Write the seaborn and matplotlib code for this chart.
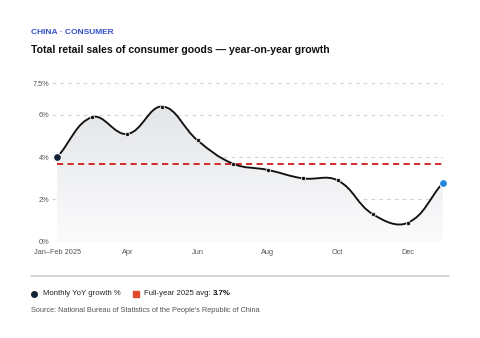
import numpy as np
import pandas as pd
import matplotlib
matplotlib.use("Agg")
import matplotlib.pyplot as plt
import seaborn as sns
from matplotlib.path import Path
from matplotlib.patches import PathPatch
from matplotlib.lines import Line2D

# ---------------- data ----------------
months = ["Jan–Feb 2025", "Mar", "Apr", "May", "Jun", "Jul", "Aug",
          "Sep", "Oct", "Nov", "Dec", "Jan–Feb 2026"]
yoy_growth = [4.0, 5.9, 5.1, 6.4, 4.8, 3.7, 3.4, 3.0, 2.9, 1.3, 0.9, 2.8]
full_year_avg = 3.7
tick_labels_x = ["Jan–Feb 2025", "", "Apr", "", "Jun", "", "Aug", "", "Oct", "", "Dec", ""]
y_ticks = [0, 2, 4, 6, 7.5]
y_tick_labels = ["0%", "2%", "4%", "6%", "7.5%"]

df = pd.DataFrame({"month": months, "idx": np.arange(len(months)), "yoy": yoy_growth})

sns.set_theme(style="white")
plt.rcParams["font.family"] = ["Liberation Sans", "DejaVu Sans"]

W, H = 480, 338
fig = plt.figure(figsize=(W / 100, H / 100), dpi=100)
fig.patch.set_facecolor("white")
ax_l, ax_r, ax_t, ax_b = 52, 443, 83.3, 241.7
ax = fig.add_axes([ax_l / W, 1 - ax_b / H, (ax_r - ax_l) / W, (ax_b - ax_t) / H])

x0, x1 = -0.15, len(months) - 1
ax.set_xlim(x0, x1)
ax.set_ylim(0, 7.5)

# pixel scale for spline tension (Chart.js-like)
sx = (ax_r - ax_l) / (x1 - x0)
sy = (ax_b - ax_t) / 7.5
xs = df["idx"].to_numpy(dtype=float)
ys = df["yoy"].to_numpy(dtype=float)
n = len(xs)
t = 0.4
cps = []
for i in range(n):
    px, py = (xs[i - 1], ys[i - 1]) if i > 0 else (xs[i], ys[i])
    nx, ny = (xs[i + 1], ys[i + 1]) if i < n - 1 else (xs[i], ys[i])
    d01 = np.hypot((xs[i] - px) * sx, (ys[i] - py) * sy)
    d12 = np.hypot((nx - xs[i]) * sx, (ny - ys[i]) * sy)
    tot = d01 + d12
    s01 = d01 / tot if tot else 0
    s12 = d12 / tot if tot else 0
    fa, fb = t * s01, t * s12
    cp_prev = (xs[i] - fa * (nx - px), ys[i] - fa * (ny - py))
    cp_next = (xs[i] + fb * (nx - px), ys[i] + fb * (ny - py))
    cps.append((cp_prev, cp_next))

verts = [(xs[0], ys[0])]
codes = [Path.MOVETO]
for i in range(n - 1):
    verts += [cps[i][1], cps[i + 1][0], (xs[i + 1], ys[i + 1])]
    codes += [Path.CURVE4] * 3
line_path = Path(verts, codes)

fill_verts = verts + [(xs[-1], 0), (xs[0], 0), (xs[0], ys[0])]
fill_codes = codes + [Path.LINETO, Path.LINETO, Path.CLOSEPOLY]
fill_patch = PathPatch(Path(fill_verts, fill_codes), facecolor="none", edgecolor="none")
ax.add_patch(fill_patch)

# gradient fill
grad = np.linspace(0, 1, 256).reshape(-1, 1)
top_c = np.array([0.89, 0.90, 0.91])
bot_c = np.array([0.985, 0.985, 0.99])
img = bot_c + (top_c - bot_c) * grad
img = np.repeat(img[:, None, :], 2, axis=1)
im = ax.imshow(img, origin="lower", extent=[xs[0], xs[-1], 0, max(ys)], aspect="auto",
               zorder=1, interpolation="bilinear")
im.set_clip_path(fill_patch)

# grid
for yt in y_ticks:
    ax.axhline(yt, color="#d4d4d4", lw=0.8, ls=(0, (3.5, 3.5)), zorder=0.5)

# average line
ax.plot([xs[0], xs[-1]], [full_year_avg, full_year_avg], color="#d42a2a", lw=1.4,
        ls=(0, (3.2, 2.2)), zorder=2)

# curve
ax.add_patch(PathPatch(line_path, facecolor="none", edgecolor="#111111", lw=1.35, zorder=3,
                       capstyle="round", joinstyle="round"))

# points
sns.scatterplot(data=df.iloc[1:-1], x="idx", y="yoy", ax=ax, color="#111111", s=9,
                edgecolor="white", linewidth=0.5, zorder=4, legend=False)
sns.scatterplot(data=df.iloc[[0]], x="idx", y="yoy", ax=ax, color="#0f2233", s=32,
                edgecolor="white", linewidth=0.8, zorder=5, legend=False, clip_on=False)
sns.scatterplot(data=df.iloc[[-1]], x="idx", y="yoy", ax=ax, color="#1f86e0", s=32,
                edgecolor="white", linewidth=0.8, zorder=5, legend=False, clip_on=False)

ax.set_xticks(xs)
ax.set_xticklabels(tick_labels_x)
ax.set_yticks(y_ticks)
ax.set_yticklabels(y_tick_labels)
ax.tick_params(axis="both", length=0, labelsize=5.3, labelcolor="#555555")
ax.tick_params(axis="y", pad=2)
ax.tick_params(axis="x", pad=5.5)
ax.set_xlabel("")
ax.set_ylabel("")
for s in ax.spines.values():
    s.set_visible(False)
ax.set_facecolor("none")

# titles
fig.text(31 / W, 1 - 32 / H, "CHINA · CONSUMER",
         color="#3450c8", fontsize=6.0, fontweight="bold", va="center", ha="left")
fig.text(31 / W, 1 - 50 / H, "Total retail sales of consumer goods — year-on-year growth",
         color="#111111", fontsize=7.6, fontweight="bold", va="center", ha="left")

# rule
fig.add_artist(Line2D([31 / W, 449 / W], [1 - 275.5 / H, 1 - 275.5 / H], color="#d0d0d0", lw=1.2))

# legend
ly = 1 - 293.5 / H
fig.add_artist(Line2D([34 / W], [ly], marker="o", ms=4.0, color="#0f2233", mec="#0f2233", lw=0))
fig.text(43 / W, ly, "Monthly YoY growth %", fontsize=5.55, color="#222222", va="center", ha="left")
fig.add_artist(Line2D([136 / W], [ly], marker="s", ms=4.0, color="#e04a2a", mec="#e04a2a", lw=0))
t1 = fig.text(144.5 / W, ly, "Full-year 2025 avg: ", fontsize=5.55, color="#222222", va="center", ha="left")
fig.canvas.draw()
bb = t1.get_window_extent(renderer=fig.canvas.get_renderer())
fig.text(bb.x1 / W, ly, "3.7%", fontsize=5.55, color="#111111", fontweight="bold", va="center", ha="left")

fig.text(31 / W, 1 - 311 / H, "Source: National Bureau of Statistics of the People's Republic of China",
         fontsize=5.3, color="#555555", va="center", ha="left")

fig.savefig("out.png", dpi=100, facecolor="white")
